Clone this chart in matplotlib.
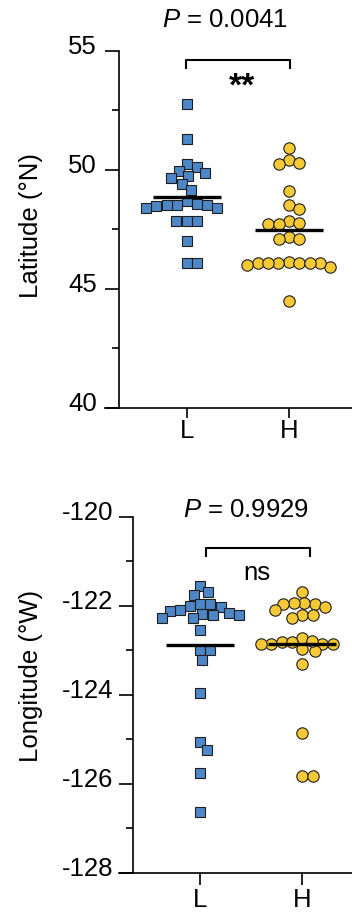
import numpy as np
import matplotlib
matplotlib.use('Agg')
import matplotlib.pyplot as plt
from matplotlib.transforms import ScaledTranslation

plt.rcParams['font.family'] = ['Liberation Sans', 'DejaVu Sans']
plt.rcParams['mathtext.fontset'] = 'custom'
plt.rcParams['mathtext.rm'] = 'Liberation Sans'
plt.rcParams['mathtext.it'] = 'Liberation Sans:italic'

groups = ['L', 'H']

lat_L = [52.76, 51.29, 50.25, 50.14, 49.97, 49.86, 49.76, 49.68, 49.40, 49.16,
         48.70, 48.57, 48.53, 48.50, 48.52, 48.53, 48.39, 48.39, 47.84, 47.84,
         47.84, 47.03, 46.11, 46.11]
lat_H = [50.94, 50.40, 50.24, 50.28, 49.13, 48.53, 48.38, 47.84, 47.72, 47.76,
         47.73, 47.20, 47.09, 47.10, 46.14, 46.11, 46.08, 45.94, 46.11, 46.08,
         46.08, 45.99, 46.11, 44.50]

lon_L = [-121.55, -121.70, -121.75, -121.96, -121.96, -122.00, -122.02, -122.10,
         -122.11, -122.16, -122.19, -122.21, -122.21, -122.28, -122.28, -122.55,
         -123.00, -123.00, -123.23, -123.96, -125.07, -125.25, -125.77, -126.63]
lon_H = [-121.70, -121.96, -121.93, -121.93, -122.02, -121.96, -122.10, -122.21,
         -122.21, -122.28, -122.85, -122.85, -122.82, -122.73, -123.02, -122.85,
         -122.97, -122.85, -122.82, -122.79, -123.32, -124.85, -125.83, -125.83]

p_lat = '0.0041'
p_lon = '0.9929'
sig_lat = '**'
sig_lon = 'ns'

blue = '#4d87c7'
yellow = '#f4c935'
edge = '#1e1e1e'
FS = 18.5
W, H = 352, 914


def swarm(ax, xc, vals, d):
    # simple beeswarm in pixel space, returns x in data units
    tr = ax.transData
    ys = tr.transform(np.column_stack([np.full(len(vals), xc), vals]))[:, 1]
    ppu = tr.transform((1, 0))[0] - tr.transform((0, 0))[0]
    placed = []
    out = np.zeros(len(vals))
    for i in np.argsort(-ys):
        y = ys[i]
        cands = [0.0]
        for px, py in placed:
            dy = abs(py - y)
            if dy < d:
                dx = np.sqrt(d * d - dy * dy)
                cands += [px + dx, px - dx]
        cands.sort(key=abs)
        c = cands[0]
        for c in cands:
            if all((c - px) ** 2 + (y - py) ** 2 >= d * d - 1e-6 for px, py in placed):
                break
        placed.append((c, y))
        out[i] = c
    return xc + out / ppu


def panel(rect, xlim, spine_x, ylim, major, minor, yL, yH, ylabel, ylab_pos,
          ptxt, ppos, bracket, sig, sigpos, sigkw, xtick_len, ytick_pad, xtick_pad):
    ax = fig.add_axes([rect[0] / W, 1 - rect[3] / H, (rect[2] - rect[0]) / W,
                       (rect[3] - rect[1]) / H])
    ax.set_xlim(*xlim)
    ax.set_ylim(*ylim)
    for s in ['top', 'right']:
        ax.spines[s].set_visible(False)
    ax.spines['left'].set_position(('data', spine_x))
    for s in ['left', 'bottom']:
        ax.spines[s].set_linewidth(1.2)
    ax.set_yticks(major)
    ax.set_yticks(minor, minor=True)
    ax.set_yticklabels([f'{v:g}' for v in major])
    ax.set_xticks([0, 1])
    ax.set_xticklabels(groups)
    ax.tick_params(axis='y', which='major', length=10, width=1.2, labelsize=FS,
                   pad=ytick_pad)
    ax.tick_params(axis='y', which='minor', length=5, width=1.2)
    ax.tick_params(axis='x', length=xtick_len, width=1.2, labelsize=FS,
                   pad=xtick_pad)
    # labels sit a little above their ticks, as in the original
    shift = ScaledTranslation(0, 0.065, fig.dpi_scale_trans)
    for lab in ax.get_yticklabels():
        lab.set_transform(lab.get_transform() + shift)

    d = 10.5
    xs_L = swarm(ax, 0, yL, d)
    xs_H = swarm(ax, 1, yH, d)
    ax.plot(xs_L, yL, 's', ms=7.6, mfc=blue, mec=edge, mew=0.8, ls='none',
            clip_on=False, zorder=3)
    ax.plot(xs_H, yH, 'o', ms=8.2, mfc=yellow, mec=edge, mew=0.8, ls='none',
            clip_on=False, zorder=3)
    for i, v in enumerate([yL, yH]):
        m = np.mean(v)
        ax.plot([i - 0.335, i + 0.335], [m, m], color='black', lw=2.4,
                solid_capstyle='butt', zorder=4)

    bx0, bx1, by, bleg = bracket
    ax.plot([bx0, bx0, bx1, bx1], [bleg, by, by, bleg], color='black', lw=1.5,
            clip_on=False)
    ax.text(sigpos[0], sigpos[1], sig, ha='center', **sigkw)

    fig.text(ylab_pos[0] / W, 1 - ylab_pos[1] / H, ylabel, rotation=90,
             ha='center', va='center', fontsize=FS)
    fig.text(ppos[0] / W, 1 - ppos[1] / H, r'$P$ = ' + ptxt, ha='center',
             va='baseline', fontsize=FS)
    return ax


fig = plt.figure(figsize=(W / 100, H / 100), dpi=100)

panel((105, 51, 352, 408), (-0.804, 1.618), -0.667, (40, 55),
      [40, 45, 50, 55], [42.5, 47.5, 52.5], lat_L, lat_H,
      'Latitude (°N)', (31, 226), p_lat, (224.7, 27.3),
      (-0.01, 1.01, 54.62, 54.27), sig_lat, (0.54, 53.49),
      dict(va='center', fontsize=24, fontweight='bold'), 7.2, 6, 1)

panel((119, 516.7, 352, 872.7), (-0.794, 1.490), -0.657, (-128, -120),
      [-128, -126, -124, -122, -120], [-127, -125, -123, -121], lon_L, lon_H,
      'Longitude (°W)', (30.7, 676), p_lon, (246.5, 516.7),
      (0.06, 1.08, -120.70, -120.88), sig_lon, (0.556, -121.42),
      dict(va='baseline', fontsize=FS), 8.9, 4, 2)

fig.savefig('out.png', dpi=100)
